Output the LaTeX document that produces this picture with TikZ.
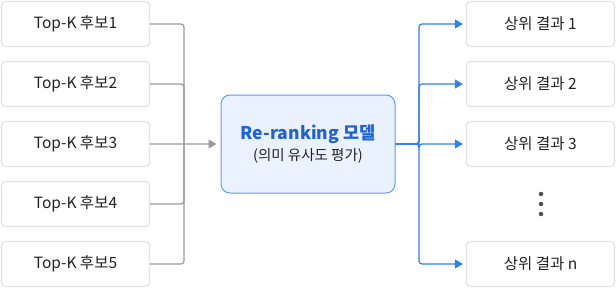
\documentclass[tikz,border=0pt]{standalone}
\usepackage{fontspec}
\setmainfont{Noto Sans CJK KR}
\usetikzlibrary{arrows.meta, positioning, calc}
\definecolor{boxline}{HTML}{E2E2E2}
\definecolor{inkdark}{HTML}{222222}
\definecolor{linegrey}{HTML}{9A9A9A}
\definecolor{flowblue}{HTML}{2F7FF5}
\definecolor{modelfill}{HTML}{EAF2FF}
\definecolor{modelline}{HTML}{5A9BF6}
\definecolor{modeltext}{HTML}{1E62D8}
\tikzset{
  itembox/.style={rectangle, rounded corners=4pt, draw=boxline, line width=1.2pt, fill=white,
    minimum width=148pt, minimum height=45pt, align=center, font=\fontsize{15.5}{18}\selectfont, text=inkdark},
  modelbox/.style={rectangle, rounded corners=9pt, draw=modelline, line width=1pt, fill=modelfill,
    minimum width=174pt, minimum height=98pt, align=center},
  gline/.style={draw=linegrey, line width=1.2pt, rounded corners=3pt},
  garrow/.style={-{Triangle[length=8pt, width=9pt]}, draw=linegrey, line width=1.2pt, shorten >=4pt},
  barrow/.style={-{Triangle[length=8pt, width=9pt]}, draw=flowblue, line width=1.2pt, rounded corners=3pt, shorten >=3pt},
  dot/.style={circle, fill=inkdark!80, inner sep=0pt, minimum size=4.5pt},
}
\begin{document}
\begin{tikzpicture}[x=1pt, y=-1pt, node distance=13.8pt]
\useasboundingbox (0,0) rectangle (616,289);
\node[itembox] (cand1) at (75.5,24) {Top-K 후보1};
\node[itembox, below=of cand1] (cand2) {Top-K 후보2};
\node[itembox, below=of cand2] (cand3) {Top-K 후보3};
\node[itembox, below=of cand3] (cand4) {Top-K 후보4};
\node[itembox, below=of cand4] (cand5) {Top-K 후보5};
\node[modelbox] (model) at (308,144) {{\fontsize{17.5}{20}\selectfont\bfseries\color{modeltext}Re-ranking 모델}\\[3pt]
  {\fontsize{14.5}{17}\selectfont\color{inkdark}(의미 유사도 평가)}};
\node[itembox] (res1) at (540.5,24) {상위 결과 1};
\node[itembox, below=of res1] (res2) {상위 결과 2};
\node[itembox, below=of res2] (res3) {상위 결과 3};
\node[itembox] (resn) at (540.5,264) {상위 결과 n};
\node[dot] (dot1) at (541,194) {};
\node[dot] (dot2) at (541,204) {};
\node[dot] (dot3) at (541,214) {};
\coordinate (ljoin) at (184,144);
\coordinate (rjoin) at (419,144);
% candidates into the model
\foreach \c in {cand1,cand2,cand4,cand5}
  \draw[gline] (\c.east) -| (ljoin);
\draw[garrow] (cand3.east) -- (model.west);
% model out to the results
\foreach \r in {res1,res2,res3,resn}
  \draw[barrow] (model.east) -- (rjoin) |- (\r.west);
\end{tikzpicture}
\end{document}
